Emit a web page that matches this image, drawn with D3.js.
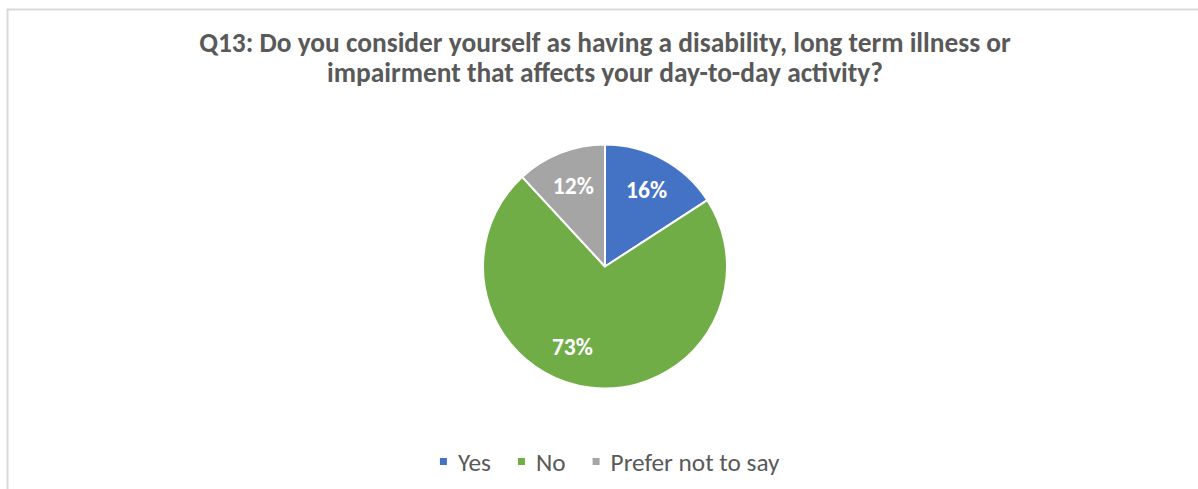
<!DOCTYPE html>
<html>
<head>
<meta charset="utf-8">
<script src="https://cdn.jsdelivr.net/npm/d3@7"></script>
<style>
  html, body { margin: 0; padding: 0; background: #ffffff; }
  svg { display: block; }
  text { font-family: Carlito, Lato, "Open Sans", sans-serif; }
</style>
</head>
<body>
<svg id="chart" width="1198" height="489"></svg>
<script>
// Survey responses (percent of respondents)
const categories = ["Yes", "No", "Prefer not to say"];
const values = [16, 73, 12];
const colors = ["#4472C4", "#70AD47", "#A5A5A5"];
const titleLines = [
  "Q13: Do you consider yourself as having a disability, long term illness or",
  "impairment that affects your day-to-day activity?"
];

const W = 1198, H = 489;
const svg = d3.select("#chart");

// chart area frame
svg.append("rect")
  .attr("x", 7.5).attr("y", 9.5)
  .attr("width", W + 50).attr("height", H + 50)
  .attr("fill", "#ffffff")
  .attr("stroke", "#d9d9d9")
  .attr("stroke-width", 2);

// helper: size a text so it spans a given width
function fitText(sel, targetWidth) {
  const node = sel.node();
  const fs = parseFloat(sel.attr("font-size"));
  const w = node.getComputedTextLength();
  sel.attr("font-size", (fs * targetWidth / w).toFixed(2));
  return fs * targetWidth / w;
}

// title
const cx = 605;
const title = svg.append("g");
const t1 = title.append("text")
  .attr("x", cx).attr("y", 52)
  .attr("text-anchor", "middle")
  .attr("font-size", 20).attr("font-weight", "bold")
  .attr("fill", "#595959")
  .text(titleLines[0]);
fitText(t1, 812);
const t2 = title.append("text")
  .attr("x", cx).attr("y", 82)
  .attr("text-anchor", "middle")
  .attr("font-size", t1.attr("font-size")).attr("font-weight", "bold")
  .attr("fill", "#595959")
  .text(titleLines[1]);

// pie
const cy = 266.5, radius = 122;
const color = d3.scaleOrdinal().domain(categories).range(colors);
const pie = d3.pie().sort(null).value(d => d.value);
const data = categories.map((c, i) => ({ name: c, value: values[i] }));
const arcs = pie(data);
const arc = d3.arc().innerRadius(0).outerRadius(radius);

const g = svg.append("g").attr("transform", `translate(${cx},${cy})`);
g.selectAll("path")
  .data(arcs)
  .join("path")
  .attr("d", arc)
  .attr("fill", d => color(d.data.name))
  .attr("stroke", "#ffffff")
  .attr("stroke-width", 2)
  .attr("stroke-linejoin", "round");

// data labels: placed inside each slice, large slice label nudged toward lower left
const labelR = 87;
const angleShift = { "No": 0.26 };
const labels = g.selectAll("text.lbl")
  .data(arcs)
  .join("text")
  .attr("class", "lbl")
  .attr("text-anchor", "middle")
  .attr("dy", "0.35em")
  .attr("font-size", 19)
  .attr("font-weight", "bold")
  .attr("fill", "#ffffff")
  .attr("transform", d => {
    const a = (d.startAngle + d.endAngle) / 2 + (angleShift[d.data.name] || 0);
    return `translate(${labelR * Math.sin(a)},${-labelR * Math.cos(a)})`;
  })
  .text(d => d.data.value + "%");
const labelSize = fitText(labels.filter((d, i) => i === 0), 41);
labels.attr("font-size", labelSize.toFixed(2));

// legend
const legend = svg.append("g");
const legendY = 462;
const items = legend.selectAll("g")
  .data(categories)
  .join("g");
items.append("rect")
  .attr("width", 7).attr("height", 7)
  .attr("y", legendY - 4)
  .attr("fill", d => color(d));
const legendText = items.append("text")
  .attr("x", 18).attr("y", legendY)
  .attr("dy", "0.35em")
  .attr("font-size", 19)
  .attr("fill", "#595959")
  .text(d => d);
const legendSize = fitText(legendText.filter((d, i) => i === 2), 169);
legendText.attr("font-size", legendSize.toFixed(2));
// lay out items left to right, centred on the pie
const gap = 27;
let widths = [];
items.each(function () {
  widths.push(this.getBBox().width);
});
const totalW = d3.sum(widths) + gap * (widths.length - 1);
let xPos = 610 - totalW / 2;
items.attr("transform", (d, i) => {
  const x = xPos;
  xPos += widths[i] + gap;
  return `translate(${x},0)`;
});
</script>
</body>
</html>
